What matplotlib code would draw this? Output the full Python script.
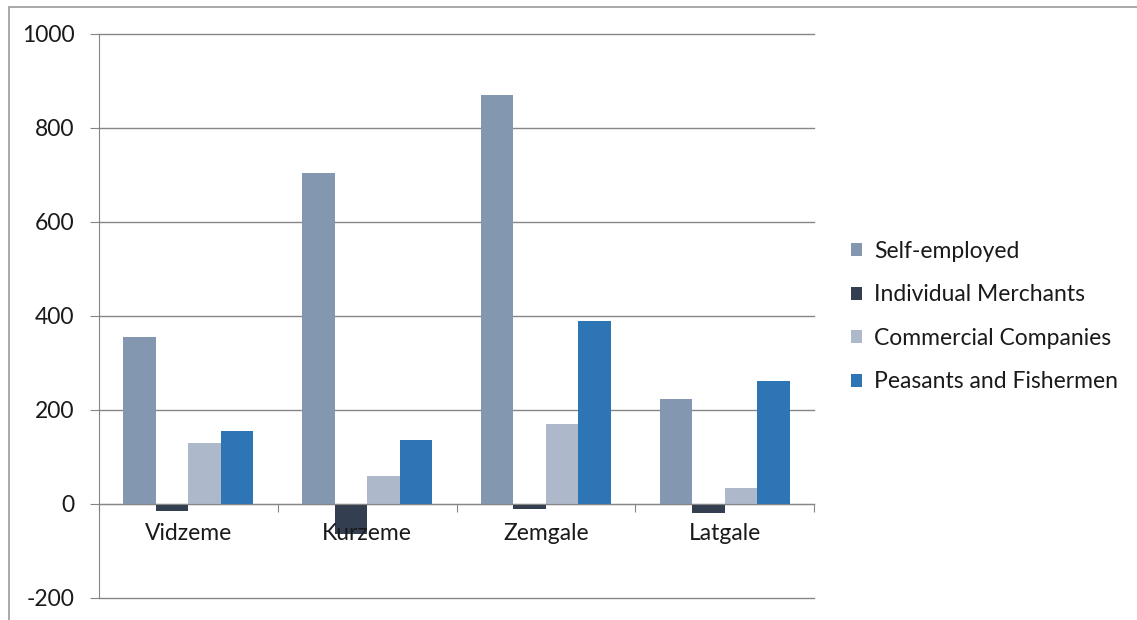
import matplotlib.pyplot as plt
import numpy as np
from matplotlib.patches import Rectangle

regions = ["Vidzeme", "Kurzeme", "Zemgale", "Latgale"]
series_names = ["Self-employed", "Individual Merchants",
                "Commercial Companies", "Peasants and Fishermen"]
self_employed = [355, 704, 870, 223]
individual_merchants = [-15, -64, -10, -19]
commercial_companies = [130, 60, 170, 34]
peasants_fishermen = [155, 136, 389, 262]
y_ticks = [-200, 0, 200, 400, 600, 800, 1000]

colors = ["#8497B0", "#333F50", "#ADB9CA", "#2E75B6"]
grid_color = "#868686"
fs = 16.5

plt.rcParams['font.family'] = ['Lato', 'DejaVu Sans']

fig = plt.figure(figsize=(11.37, 6.2), dpi=100)
ax = fig.add_axes([0.0871, 0.0355, 0.6289, 0.9097])

# outer chart border (runs off the right and bottom edges)
fig.patches.append(Rectangle((0.0075, -0.05), 1.1, 1.039, transform=fig.transFigure,
                             fill=False, edgecolor="#9A9A9A", linewidth=1.2))

x = np.arange(len(regions))
width = 0.182
data = [self_employed, individual_merchants, commercial_companies, peasants_fishermen]
for i, (name, vals) in enumerate(zip(series_names, data)):
    ax.bar(x + (i - 1.5) * width, vals, width, color=colors[i], label=name, zorder=2)

ax.set_xlim(-0.5, len(regions) - 0.5)
ax.set_ylim(-200, 1000)
ax.set_yticks(y_ticks)
ax.set_yticklabels([str(v) for v in y_ticks], fontsize=fs, color="#1a1a1a")
ax.yaxis.grid(True, color=grid_color, linewidth=1)
for gl in ax.get_ygridlines():
    gl.set_clip_on(False)
ax.set_axisbelow(True)
ax.tick_params(axis='y', length=6.5, color=grid_color, pad=11)

for s in ["top", "right"]:
    ax.spines[s].set_visible(False)
ax.spines["left"].set_color(grid_color)
ax.spines["bottom"].set_position(("data", 0))
ax.spines["bottom"].set_color(grid_color)

ax.set_xticks(np.arange(-0.5, len(regions), 1.0))
ax.set_xticklabels([])
ax.tick_params(axis='x', length=6, color=grid_color)

# category labels sit on top of the bars
for xi, name in zip(x, regions):
    ax.text(xi, -62, name, ha='center', va='center', fontsize=fs, color="#1a1a1a", zorder=5)

leg = ax.legend(loc='center left', bbox_to_anchor=(1.0226, 0.499), frameon=False,
                fontsize=fs, handlelength=0.5, handleheight=0.5, handletextpad=0.5,
                labelspacing=0.98)
for t in leg.get_texts():
    t.set_color("#1a1a1a")

fig.savefig("out.png", dpi=100)
